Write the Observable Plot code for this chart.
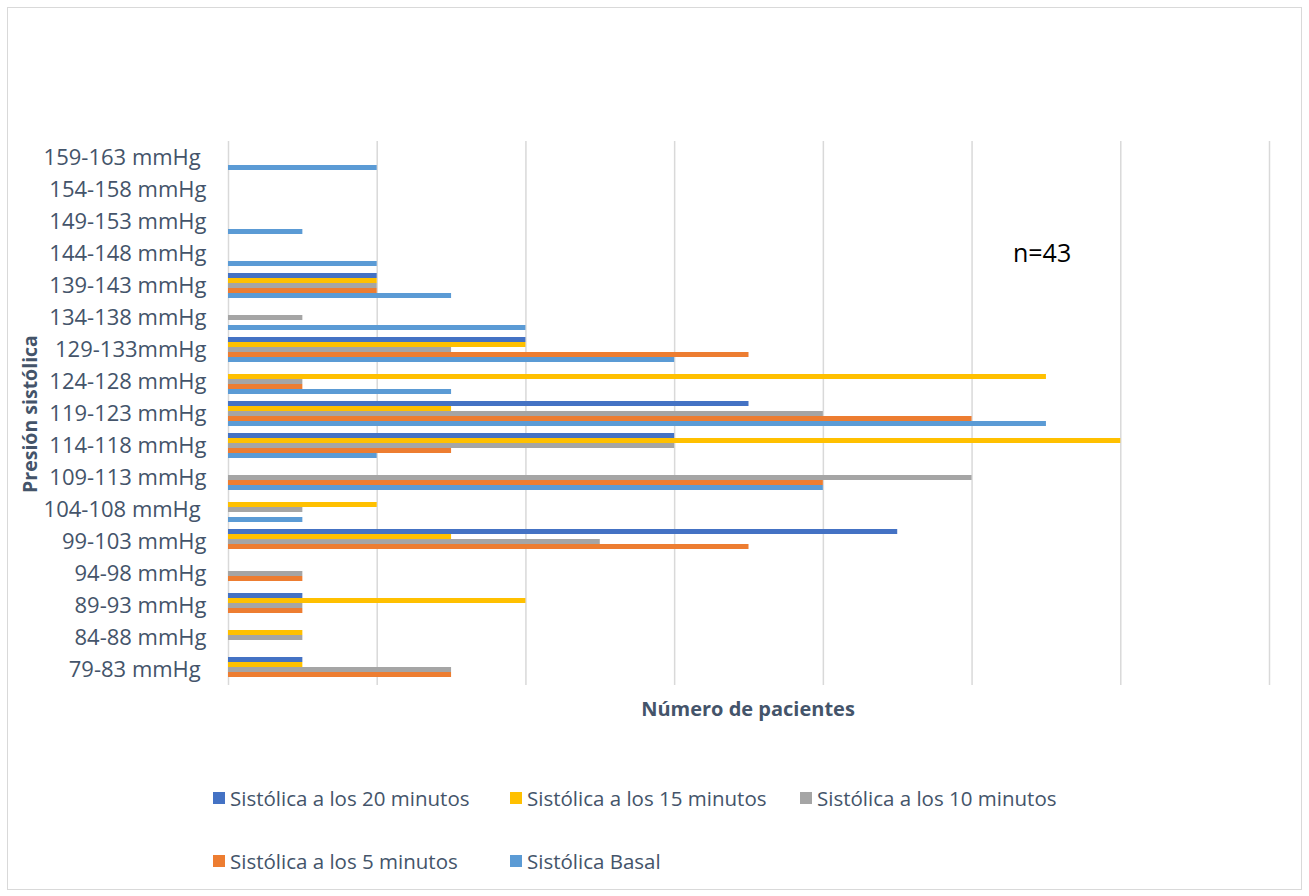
<!DOCTYPE html>
<html>
<head>
<meta charset="utf-8">
<script src="https://cdn.jsdelivr.net/npm/d3@7"></script>
<script src="https://cdn.jsdelivr.net/npm/@observablehq/plot@0.6"></script>
<style>
  html, body { margin: 0; padding: 0; background: #fff; }
  body { width: 1309px; height: 896px; position: relative; overflow: hidden;
         font-family: "Open Sans", "Liberation Sans", sans-serif; color: #44546A; }
  #frame { position: absolute; left: 7px; top: 7px; width: 1295px; height: 883px;
           box-sizing: border-box; border: 1px solid #d9d9d9; pointer-events: none; }
  #chart { position: absolute; left: 0; top: 0; }
  .title-y { position: absolute; left: 29px; top: 414px; white-space: nowrap;
             transform: translate(-50%, -50%) rotate(-90deg);
             font-weight: bold; font-size: 19.5px; }
  .title-x { position: absolute; left: 748px; top: 708px; white-space: nowrap;
             transform: translate(-50%, -50%); font-weight: bold; font-size: 20px; }
  #legend { position: absolute; left: 213px; top: 786px; display: grid;
            grid-template-columns: 297px 290px auto; row-gap: 39px; font-size: 20.5px; }
  .item { display: flex; align-items: center; height: 24px; white-space: nowrap; }
  .sw { width: 12px; height: 12px; margin-right: 5px; flex: none; }
</style>
</head>
<body>
<div id="chart"></div>
<div class="title-y">Presión sistólica</div>
<div class="title-x">Número de pacientes</div>
<div id="legend"></div>
<div id="frame"></div>
<script>
// Pressure ranges, listed from top to bottom of the chart
const ranges = [
  "159-163 mmHg ", "154-158 mmHg", "149-153 mmHg", "144-148 mmHg", "139-143 mmHg",
  "134-138 mmHg", "129-133mmHg", "124-128 mmHg", "119-123 mmHg", "114-118 mmHg",
  "109-113 mmHg", "104-108 mmHg ", "99-103 mmHg", "94-98 mmHg", "89-93 mmHg",
  "84-88 mmHg", "79-83 mmHg "
];

// Series names, in the order the bars are stacked within each range
const series = [
  "Sistólica a los 20 minutos",
  "Sistólica a los 15 minutos",
  "Sistólica a los 10 minutos",
  "Sistólica a los 5 minutos",
  "Sistólica Basal"
];
const colors = ["#4472C4", "#FFC000", "#A5A5A5", "#ED7D31", "#5B9BD5"];

// Number of patients per range (same order as ranges)
const sis20 = [0, 0, 0, 0, 2, 0, 4, 0, 7, 6, 0, 0, 9, 0, 1, 0, 1];
const sis15 = [0, 0, 0, 0, 2, 0, 4, 11, 3, 12, 0, 2, 3, 0, 4, 1, 1];
const sis10 = [0, 0, 0, 0, 2, 1, 3, 1, 8, 6, 10, 1, 5, 1, 1, 1, 3];
const sis5  = [0, 0, 0, 0, 2, 0, 7, 1, 10, 3, 8, 0, 7, 1, 1, 0, 3];
const basal = [2, 0, 1, 2, 3, 4, 6, 3, 11, 2, 8, 1, 0, 0, 0, 0, 0];

const xTicks = [0, 2, 4, 6, 8, 10, 12, 14];
const sampleNote = "n=43";
const noteRange = "144-148 mmHg";
const noteX = 10.55;

const valuesBySeries = [sis20, sis15, sis10, sis5, basal];
const rows = [];
series.forEach((s, i) => {
  ranges.forEach((r, j) => {
    const v = valuesBySeries[i][j];
    if (v > 0) rows.push({range: r, series: s, value: v});
  });
});

// Gridlines are given to every range so that empty rows still get drawn
const grid = ranges.flatMap(r => xTicks.map(t => ({range: r, tick: t})));

const chart = Plot.plot({
  width: 1309,
  height: 720,
  marginTop: 138,
  marginBottom: 32,
  marginLeft: 228,
  marginRight: 40,
  style: {fontSize: "22px", fontFamily: "'Open Sans', 'Liberation Sans', sans-serif", color: "#44546A", background: "transparent"},
  x: {domain: [0, 14], axis: null},
  y: {domain: series, axis: null, paddingInner: 0, paddingOuter: 0.55},
  fy: {
    domain: ranges, axis: "left", padding: 0, label: null,
    tickSize: 0, tickPadding: 22,
    tickFormat: d => d.replace(/ $/, "\u00a0")
  },
  color: {domain: series, range: colors},
  marks: [
    Plot.ruleX(grid, {fy: "range", x: "tick", stroke: "#d9d9d9", strokeWidth: 1.5}),
    Plot.barX(rows, {fy: "range", y: "series", x: "value", fill: "series"}),
    Plot.text([{range: noteRange, text: sampleNote}], {
      fy: "range", x: () => noteX, text: "text", textAnchor: "start",
      fill: "#000", fontSize: 25
    })
  ]
});
document.getElementById("chart").appendChild(chart);

// Legend in two rows, three columns
const legend = d3.select("#legend");
series.forEach((s, i) => {
  const item = legend.append("div").attr("class", "item");
  item.append("div").attr("class", "sw").style("background", colors[i]);
  item.append("span").text(s);
});
</script>
</body>
</html>
